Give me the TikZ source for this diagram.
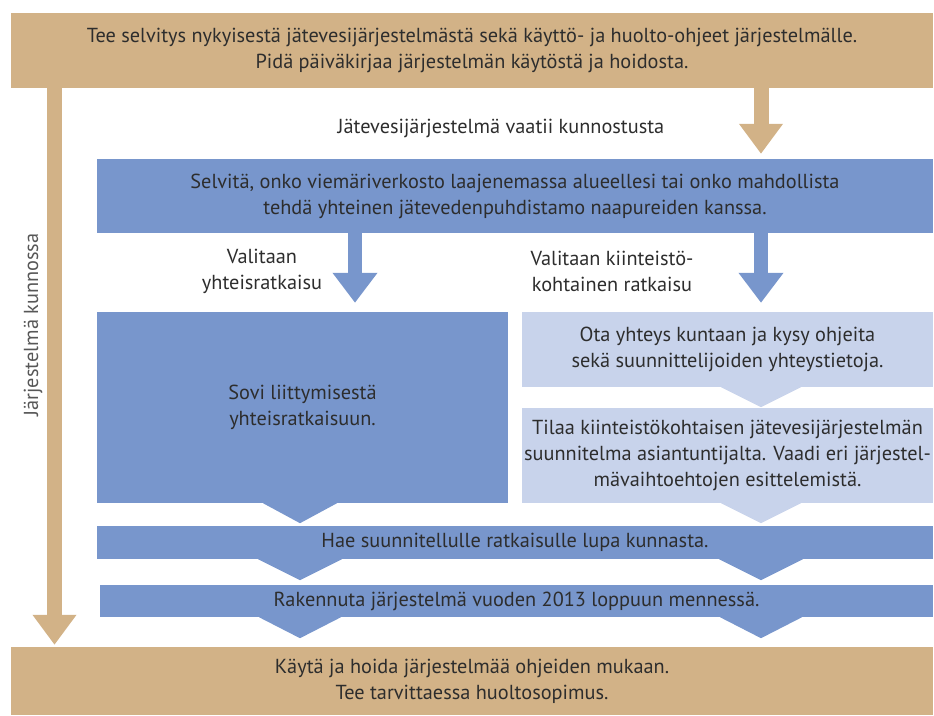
\documentclass[tikz,border=0pt]{standalone}
\usepackage{fontspec}
\setmainfont{PT Sans}
\usetikzlibrary{arrows.meta}

\definecolor{tan}{RGB}{210,178,135}
\definecolor{midblue}{RGB}{120,150,204}
\definecolor{paleblue}{RGB}{200,211,235}
\definecolor{ink}{RGB}{45,45,45}

\begin{document}
\begin{tikzpicture}[x=1pt,y=-1pt,
    box/.style={rectangle, inner sep=0pt, align=center, text=ink,
      font=\fontsize{20.3}{26}\selectfont},
    tanbox/.style={box, fill=tan},
    bluebox/.style={box, fill=midblue},
    palebox/.style={box, fill=paleblue},
    choice/.style={align=center, text=ink, font=\fontsize{20.3}{26}\selectfont},
    tanarrow/.style={draw=tan, line width=15pt, -{Triangle[length=30pt,width=42pt]}},
    bluearrow/.style={draw=midblue, line width=14pt, -{Triangle[length=30pt,width=43pt]}}]
        \useasboundingbox (0,0) rectangle (934,715);

        % Columns of the arrows
        \coordinate (bar) at (54.5,0);
        \coordinate (L) at (300,0);
        \coordinate (Lj) at (355,0);
        \coordinate (R) at (761,0);

        % Draw the boxes
        \node[tanbox, minimum width=922, minimum height=75] (survey) at (472,50.5)
          {Tee selvitys nykyisestä jätevesijärjestelmästä sekä käyttö- ja huolto-ohjeet järjestelmälle.\\
           Pidä päiväkirjaa järjestelmän käytöstä ja hoidosta.};
        \node[bluebox, minimum width=836, minimum height=74] (sewer) at (515,196)
          {Selvitä, onko viemäriverkosto laajenemassa alueellesi tai onko mahdollista\\
           tehdä yhteinen jätevedenpuhdistamo naapureiden kanssa.};
        \node[bluebox, minimum width=411, minimum height=191] (join) at (302.5,407.5)
          {Sovi liittymisestä\\ yhteisratkaisuun.};
        \node[palebox, minimum width=411, minimum height=75] (ask) at (727.5,349.5)
          {Ota yhteys kuntaan ja kysy ohjeita\\ sekä suunnittelijoiden yhteystietoja.};
        \node[palebox, minimum width=411, minimum height=95] (plan) at (727.5,455.5)
          {Tilaa kiinteistökohtaisen jätevesijärjestelmän\\
           suunnitelma asiantuntijalta. Vaadi eri järjestel-\\
           mävaihtoehtojen esittelemistä.};
        \node[bluebox, minimum width=836, minimum height=33] (permit) at (515,542.5)
          {Hae suunnitellulle ratkaisulle lupa kunnasta.};
        \node[bluebox, minimum width=833, minimum height=32] (build) at (516.5,601)
          {Rakennuta järjestelmä vuoden 2013 loppuun mennessä.};
        \node[tanbox, minimum width=922, minimum height=68] (use) at (472,681)
          {Käytä ja hoida järjestelmää ohjeiden mukaan.\\ Tee tarvittaessa huoltosopimus.};

        % Draw the notches under the boxes
        \fill[midblue] (join.south -| L) ++(-37,0) -- ++(37,20) -- ++(37,-20) -- cycle;
        \fill[paleblue] (ask.south -| R) ++(-40,0) -- ++(40,20) -- ++(40,-20) -- cycle;
        \fill[paleblue] (plan.south -| R) ++(-40,0) -- ++(40,20) -- ++(40,-20) -- cycle;
        \fill[midblue] (permit.south -| L) ++(-42,0) -- ++(42,21) -- ++(42,-21) -- cycle;
        \fill[midblue] (permit.south -| R) ++(-42,0) -- ++(42,21) -- ++(42,-21) -- cycle;
        \fill[midblue] (build.south -| L) ++(-41,0) -- ++(41,21) -- ++(41,-21) -- cycle;
        \fill[midblue] (build.south -| R) ++(-41,0) -- ++(41,21) -- ++(41,-21) -- cycle;

        % Draw the arrows
        \draw[tanarrow, shorten >=2pt] (survey.south -| bar) -- (use.north -| bar);
        \draw[tanarrow, shorten >=5pt] (survey.south -| R) -- (sewer.north -| R);
        \draw[bluearrow, shorten >=9pt] (sewer.south -| Lj) -- (join.north -| Lj);
        \draw[bluearrow, shorten >=9pt] (sewer.south -| R) -- (ask.north -| R);

        % Labels of the arrows
        \node[choice] (repair) at (501,128) {Jätevesijärjestelmä vaatii kunnostusta};
        \node[choice] (common) at (262,271) {Valitaan\\ yhteisratkaisu};
        \node[choice] (own) at (612,271) {Valitaan kiinteistö-\\ kohtainen ratkaisu};
        \node[choice, text=ink!80, rotate=90] (ok) at (33,325) {Järjestelmä kunnossa};
\end{tikzpicture}
\end{document}
